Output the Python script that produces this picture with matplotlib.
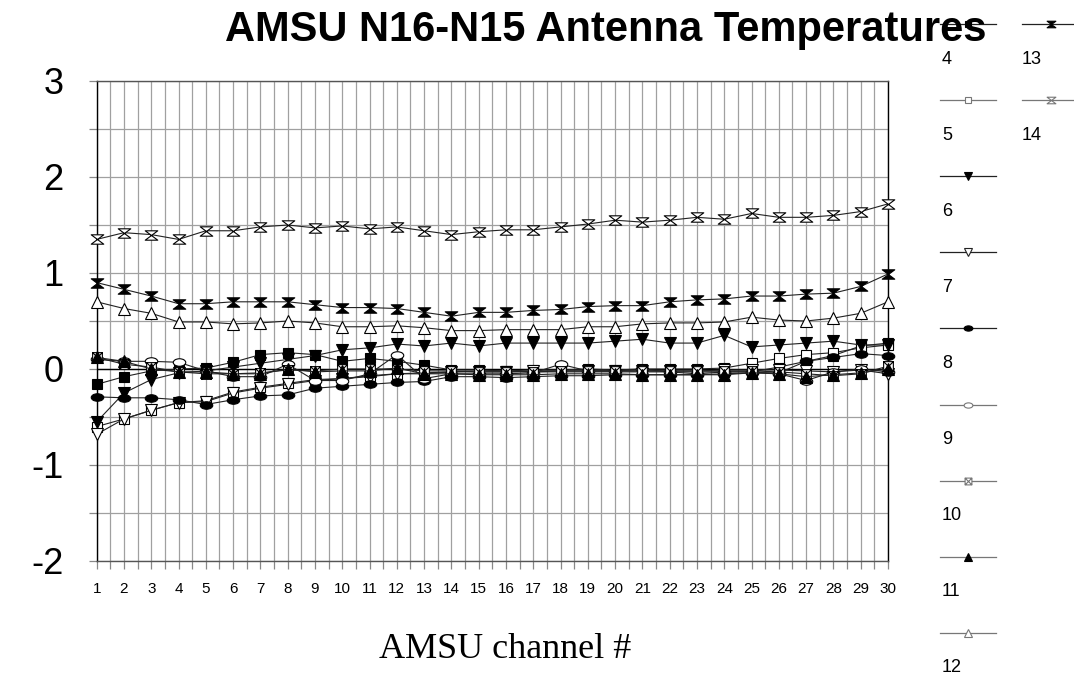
import matplotlib
matplotlib.use('Agg')
import matplotlib.pyplot as plt
from matplotlib.path import Path
from matplotlib.transforms import Affine2D
from matplotlib.lines import Line2D
from matplotlib.ticker import MultipleLocator

plt.rcParams['axes.unicode_minus'] = False  # обычный дефис вместо минуса

# данные: номер позиции по оси X и значения для каждого канала
positions = list(range(1, 31))
series_labels = ['4', '5', '6', '7', '8', '9', '10', '11', '12', '13', '14']

ch4 = [-0.16, -0.08, -0.02, 0.00, 0.01, 0.07, 0.15, 0.17, 0.15, 0.08, 0.11, 0.08, 0.04, -0.01, -0.01,
       -0.02, -0.03, -0.03, -0.03, -0.03, -0.03, -0.03, -0.03, -0.03, -0.03, 0.02, 0.08, 0.14, 0.24, 0.27]
ch5 = [-0.60, -0.52, -0.43, -0.35, -0.33, -0.24, -0.19, -0.15, -0.11, -0.10, -0.07, -0.05, -0.04, -0.03, -0.02,
       -0.02, -0.01, -0.01, 0.00, -0.01, 0.00, 0.00, 0.00, 0.01, 0.06, 0.11, 0.15, 0.17, 0.22, 0.25]
ch6 = [-0.55, -0.25, -0.11, -0.04, -0.02, 0.02, 0.06, 0.10, 0.14, 0.20, 0.22, 0.26, 0.24, 0.27, 0.24,
       0.27, 0.27, 0.27, 0.27, 0.29, 0.31, 0.27, 0.27, 0.35, 0.23, 0.25, 0.27, 0.29, 0.25, 0.25]
ch7 = [-0.68, -0.52, -0.43, -0.35, -0.34, -0.25, -0.20, -0.16, -0.12, -0.10, -0.08, -0.05, -0.05, -0.03, -0.03,
       -0.03, -0.02, -0.02, -0.02, -0.02, -0.02, -0.02, -0.02, -0.01, -0.01, -0.01, -0.02, -0.03, -0.01, -0.05]
ch8 = [-0.29, -0.30, -0.30, -0.32, -0.37, -0.32, -0.28, -0.27, -0.20, -0.18, -0.16, -0.14, -0.13, -0.08, -0.08,
       -0.09, -0.08, -0.07, -0.07, -0.06, -0.06, -0.06, -0.06, -0.05, -0.04, -0.04, 0.08, 0.12, 0.16, 0.14]
ch9 = [0.10, 0.08, 0.08, 0.07, -0.02, -0.08, -0.08, 0.05, -0.12, -0.12, -0.05, 0.15, -0.10, -0.05, -0.05,
       -0.05, -0.04, 0.05, -0.02, -0.02, 0.00, -0.03, -0.05, -0.03, -0.03, -0.05, -0.12, -0.03, 0.00, -0.03]
ch10 = [0.12, 0.05, 0.02, -0.03, -0.05, -0.05, -0.04, -0.01, -0.02, 0.00, 0.00, 0.00, -0.02, -0.02, -0.03,
        -0.03, -0.03, -0.02, -0.02, -0.02, -0.02, -0.02, -0.02, -0.02, -0.02, -0.03, -0.05, -0.07, -0.05, 0.03]
ch11 = [0.12, 0.08, 0.00, -0.03, -0.03, -0.05, -0.05, 0.00, -0.03, -0.02, -0.02, 0.01, -0.05, -0.05, -0.06,
        -0.06, -0.06, -0.05, -0.05, -0.05, -0.06, -0.06, -0.06, -0.06, -0.04, -0.05, -0.08, -0.06, -0.04, 0.00]
ch12 = [0.70, 0.63, 0.58, 0.49, 0.49, 0.47, 0.48, 0.50, 0.48, 0.44, 0.44, 0.45, 0.43, 0.40, 0.40,
        0.41, 0.41, 0.41, 0.44, 0.44, 0.47, 0.48, 0.48, 0.49, 0.54, 0.51, 0.50, 0.53, 0.58, 0.70]
ch13 = [0.90, 0.83, 0.76, 0.68, 0.68, 0.70, 0.70, 0.70, 0.67, 0.64, 0.64, 0.63, 0.59, 0.55, 0.59,
        0.59, 0.61, 0.62, 0.65, 0.66, 0.66, 0.70, 0.72, 0.73, 0.76, 0.76, 0.78, 0.79, 0.86, 0.99]
ch14 = [1.35, 1.42, 1.40, 1.35, 1.44, 1.44, 1.48, 1.50, 1.47, 1.49, 1.46, 1.48, 1.44, 1.40, 1.43,
        1.45, 1.45, 1.48, 1.51, 1.55, 1.53, 1.55, 1.58, 1.56, 1.62, 1.58, 1.58, 1.60, 1.64, 1.72]

all_series = [ch4, ch5, ch6, ch7, ch8, ch9, ch10, ch11, ch12, ch13, ch14]

# свои маркеры: эллипс, квадрат с крестом, песочные часы
ellipse = Path.unit_circle().transformed(Affine2D().scale(1.0, 0.6))
box_x = Path([(-1, -1), (1, -1), (1, 1), (-1, 1), (-1, -1), (-1, -1), (1, 1), (-1, 1), (1, -1)],
             [Path.MOVETO, Path.LINETO, Path.LINETO, Path.LINETO, Path.CLOSEPOLY,
              Path.MOVETO, Path.LINETO, Path.MOVETO, Path.LINETO])
hourglass = Path([(-1, 0.75), (1, 0.75), (-1, -0.75), (1, -0.75), (-1, 0.75)],
                 [Path.MOVETO, Path.LINETO, Path.LINETO, Path.LINETO, Path.CLOSEPOLY])

# стиль: маркер, заливка, размер, цвет линии легенды
styles = [
    ('s', 'black', 7.0, '#222222'),
    ('s', 'white', 7.0, '#777777'),
    ('v', 'black', 8.0, '#222222'),
    ('v', 'white', 8.0, '#222222'),
    (ellipse, 'black', 9.0, '#222222'),
    (ellipse, 'white', 9.0, '#777777'),
    (box_x, 'white', 7.0, '#777777'),
    ('^', 'black', 8.0, '#777777'),
    ('^', 'white', 8.0, '#777777'),
    (hourglass, 'black', 9.0, '#222222'),
    (hourglass, 'white', 9.0, '#777777'),
]

W, H = 1074, 677
fig = plt.figure(figsize=(W / 100, H / 100), dpi=100)
ax = fig.add_axes([96.7 / W, 1 - 561 / H, (888 - 96.7) / W, (561 - 81) / H])

for vals, (mk, fc, ms, lc) in zip(all_series, styles):
    ax.plot(positions, vals, color='#222222', lw=0.8, marker=mk, ms=ms,
            mfc=fc, mec='black', mew=0.8, zorder=3, clip_on=False)

ax.set_xlim(1, 30)
ax.set_ylim(-2, 3)
ax.set_xticks(positions)
ax.set_xticklabels([str(p) for p in positions])
ax.xaxis.set_minor_locator(MultipleLocator(0.5))
ax.set_yticks([-2, -1, 0, 1, 2, 3])
ax.yaxis.set_minor_locator(MultipleLocator(0.5))
ax.grid(which='both', color='#a0a0a0', lw=0.9)
ax.set_axisbelow(True)
ax.axhline(0, color='black', lw=1.0, zorder=2)

ax.tick_params(which='both', direction='out', length=6, color='#888888', width=0.9)
ax.tick_params(axis='x', labelsize=11, pad=9)
ax.tick_params(axis='y', labelsize=26, pad=18)
for t in ax.get_xticklabels():
    t.set_family(['Liberation Sans', 'DejaVu Sans'])
for t in ax.get_yticklabels():
    t.set_family(['Liberation Sans', 'DejaVu Sans'])

ax.spines['left'].set_color('black')
ax.spines['right'].set_color('black')
ax.spines['top'].set_color('#555555')
ax.spines['bottom'].set_color('#555555')
for s in ax.spines.values():
    s.set_linewidth(1.0)

# заголовок и подпись оси X
fig.text(606 / W, 1 - 30 / H, 'AMSU N16-N15 Antenna Temperatures', ha='center', va='center',
         fontsize=30, fontweight='bold', family=['Liberation Sans', 'DejaVu Sans'], zorder=5)
fig.text(505 / W, 1 - 649 / H, 'AMSU channel #', ha='center', va='center', fontsize=26,
         family=['Liberation Serif', 'DejaVu Serif'])

# легенда: линия с маркером, под ней подпись
for i, (lab, (mk, fc, ms, lc)) in enumerate(zip(series_labels, styles)):
    col = 0 if i < 9 else 1
    row = i if i < 9 else i - 9
    y = 24 + row * 76.1
    x0, x1 = (940, 996) if col == 0 else (1022, 1080)
    xm = (x0 + x1) / 2
    fig.add_artist(Line2D([x0 / W, xm / W, x1 / W], [1 - y / H] * 3, transform=fig.transFigure,
                          color=lc, lw=0.9, marker=mk, ms=ms * 0.7, mfc=fc, mec=lc if fc == 'white' else 'black',
                          mew=0.8, markevery=[1], zorder=1))
    fig.text((942 if col == 0 else 1022) / W, 1 - (y + 35) / H, lab, ha='left', va='center',
             fontsize=13, family=['Liberation Sans', 'DejaVu Sans'])

fig.savefig('out.png', dpi=100)
